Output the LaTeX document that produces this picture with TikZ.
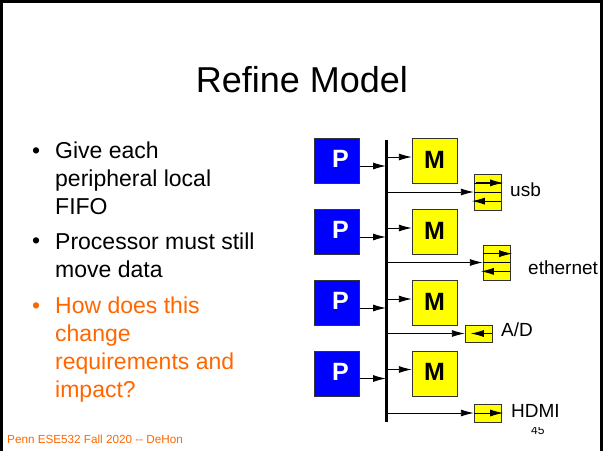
\documentclass[tikz,border=0pt]{standalone}
\usepackage{fontspec}
\setmainfont{Liberation Sans}
\usetikzlibrary{arrows.meta,calc,positioning}
\definecolor{slideorange}{RGB}{255,102,0}
\definecolor{pblue}{RGB}{0,0,255}
\definecolor{myellow}{RGB}{255,255,0}

\begin{document}
\begin{tikzpicture}[
  x=1pt,y=-1pt,
  >={Latex[length=13pt,width=7pt]},
  pbox/.style ={draw=black!80,fill=pblue,minimum width=45pt,minimum height=45pt,inner sep=0pt,
                text=white,font=\fontsize{25}{25}\selectfont\bfseries},
  mbox/.style ={pbox,fill=myellow,text=black},
  fifo/.style ={draw=black!80,fill=myellow,minimum width=27pt,inner sep=0pt},
  devlabel/.style={anchor=base west,inner sep=0pt,font=\fontsize{19}{19}\selectfont},
  bullettext/.style={anchor=base west,align=left,inner sep=0pt,font=\fontsize{23}{28}\selectfont},
  link/.style={->,line width=0.9pt},
]
\useasboundingbox (0,0) rectangle (603,451);

%% =============================================
%% Slide frame and title
%% =============================================
\draw[line width=3pt] (1.5,451) -- (1.5,1.5) -- (601.5,1.5) -- (601.5,451);
\node[anchor=base,inner sep=0pt,font=\fontsize{36}{36}\selectfont] (title) at (302,92) {Refine Model};

%% =============================================
%% Bullets (base anchor sits on the last line)
%% =============================================
\node[bullettext] (dot1) at (32,158) {\textbullet};
\node[bullettext] (item1) at (55,214) {Give each\\peripheral local\\FIFO};
\node[bullettext] (dot2) at (32,248) {\textbullet};
\node[bullettext] (item2) at (55,277) {Processor must still\\move data};
\node[bullettext,text=slideorange] (dot3) at (32,313) {\textbullet};
\node[bullettext,text=slideorange] (item3) at (55,397) {How does this\\change\\requirements and\\impact?};

%% =============================================
%% Processors, memories and the bus
%% =============================================
\coordinate (bustop) at (386,140);
\coordinate (busbot) at (386,422);

\foreach \i/\y in {1/161,2/232,3/303,4/373.5} {
  \node[pbox] (p\i) at (337,\y) {\hspace{7pt}P\rule[-4pt]{0pt}{1pt}};
  \node[mbox] (m\i) at (434.5,\y) {M\rule[-3pt]{0pt}{1pt}};
  \draw[link] ([yshift=-5pt]p\i.east) -- ([yshift=-5pt]p\i.east -| bustop);
  \draw[link] ([yshift=4pt]m\i.west -| bustop) -- ([yshift=4pt]m\i.west);
}
\draw[line width=3pt] (bustop) -- (busbot);

%% =============================================
%% Peripheral FIFOs
%% =============================================
\node[fifo,minimum height=36pt] (usbfifo)  at (487.5,192) {};
\node[fifo,minimum height=35pt] (ethfifo)  at (496.5,262.5) {};
\node[fifo,minimum height=17pt] (adfifo)   at (478.5,333.5) {};
\node[fifo,minimum height=18pt] (hdmififo) at (487.5,413) {};

\foreach \f in {usbfifo,ethfifo,adfifo,hdmififo}
  \draw[link] (\f.west -| bustop) -- (\f.west);

% two-way FIFOs
\foreach \f in {usbfifo,ethfifo} {
  \foreach \t in {0.25,0.5,0.75}
    \draw[line width=0.8pt] ($(\f.north west)!\t!(\f.south west)$) -- ($(\f.north east)!\t!(\f.south east)$);
  \draw[link] ($(\f.north west)!0.25!(\f.south west)+(2,0)$) -- ($(\f.north east)!0.25!(\f.south east)+(2,0)$);
  \draw[link] ($(\f.north east)!0.75!(\f.south east)$) -- ($(\f.north west)!0.75!(\f.south west)+(-2,0)$);
}
% one-way FIFOs
\draw[link] (adfifo.east) -- ([xshift=6pt]adfifo.west);
\draw[link] (hdmififo.west) -- ([xshift=2pt]hdmififo.east);

\node[devlabel] (usblabel)  at (510,196) {usb};
\node[devlabel] (ethlabel)  at (528,274) {ethernet};
\node[devlabel] (adlabel)   at (501,336) {A/D};
\node[devlabel] (hdmilabel) at (511,417) {HDMI};

%% =============================================
%% Footer
%% =============================================
\node[anchor=base west,inner sep=0pt,text=slideorange,font=\fontsize{11.7}{12}\selectfont] (footer)
  at (7,443) {Penn ESE532 Fall 2020 -{}- DeHon};
\begin{scope}
  \clip (520,427) rectangle (560,440);
  \node[anchor=base west,inner sep=0pt,font=\fontsize{12}{12}\selectfont] (pagenum) at (531,434) {45};
\end{scope}

\end{tikzpicture}
\end{document}
